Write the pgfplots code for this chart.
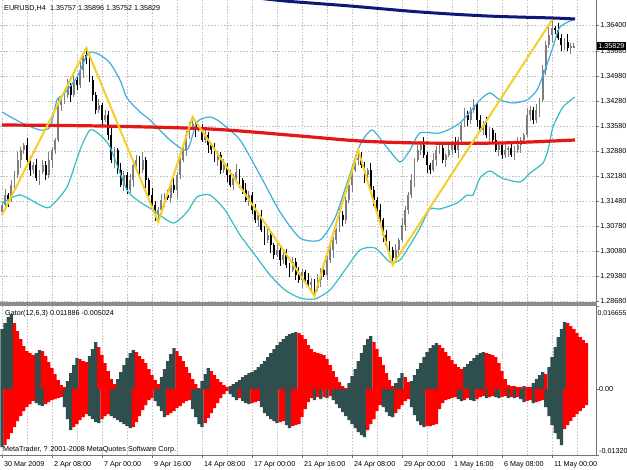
\documentclass[border=0pt]{standalone}
\usepackage{fontspec}
\setmainfont{Liberation Sans}
\usepackage{pgfplots}
\pgfplotsset{compat=1.18}
\usepackage{pgfplotstable}

\definecolor{candgray}{RGB}{125,125,125}
\definecolor{bandup}{RGB}{60,175,222}
\definecolor{banddn}{RGB}{52,190,200}
\definecolor{maRed}{RGB}{228,22,22}
\definecolor{maNavy}{RGB}{14,24,118}
\definecolor{zz}{RGB}{246,206,40}
\definecolor{gslate}{RGB}{47,79,79}
\definecolor{gred}{RGB}{255,0,0}
\definecolor{gridc}{RGB}{196,196,196}

% EURUSD H4 candles: bar index, open, high, low, close
\pgfplotstableread{
i o h l c
0 1.31172 1.31452 1.31088 1.31368
1 1.31368 1.31816 1.31284 1.31648
3 1.31508 1.32068 1.31452 1.31928
4 1.31928 1.32320 1.31788 1.32208
5 1.32208 1.32852 1.32124 1.32628
6 1.32628 1.32992 1.32404 1.32908
7 1.32908 1.33104 1.32796 1.33048
10 1.32348 1.32572 1.32236 1.32488
12 1.32124 1.32348 1.31928 1.32292
13 1.32292 1.32628 1.32236 1.32488
15 1.32208 1.32852 1.32124 1.32628
16 1.32628 1.32992 1.32404 1.32908
17 1.32908 1.33244 1.32796 1.33188
18 1.33188 1.34364 1.33132 1.34168
19 1.34168 1.34420 1.34000 1.34308
20 1.34308 1.34532 1.34196 1.34448
21 1.34448 1.34896 1.34364 1.34728
23 1.34448 1.35008 1.34392 1.34868
25 1.34728 1.35372 1.34644 1.35148
26 1.35148 1.35652 1.34924 1.35568
31 1.34028 1.34336 1.33944 1.34168
33 1.33748 1.34028 1.33692 1.33888
36 1.32628 1.32992 1.32404 1.32908
39 1.31928 1.32320 1.31760 1.32208
41 1.31788 1.32236 1.31704 1.32068
42 1.32068 1.32544 1.31872 1.32488
43 1.32488 1.32768 1.32432 1.32628
45 1.32348 1.32852 1.32264 1.32628
50 1.31088 1.31312 1.30892 1.31228
51 1.31228 1.31676 1.31144 1.31508
52 1.31508 1.31704 1.31312 1.31648
54 1.31564 1.32040 1.31424 1.31928
56 1.31788 1.32292 1.31564 1.32208
57 1.32208 1.32684 1.32096 1.32628
58 1.32628 1.33104 1.32572 1.32908
59 1.32908 1.33440 1.32740 1.33328
60 1.33328 1.33692 1.33216 1.33608
61 1.33608 1.33832 1.33524 1.33636
63 1.33468 1.33608 1.33412 1.33524
65 1.33188 1.33552 1.33104 1.33328
69 1.32628 1.32880 1.32460 1.32768
71 1.32348 1.32656 1.32264 1.32488
74 1.31928 1.32236 1.31788 1.32124
75 1.32124 1.32516 1.32040 1.32292
79 1.31508 1.31760 1.31340 1.31648
82 1.30948 1.31144 1.30752 1.31088
85 1.30388 1.30752 1.30304 1.30528
88 1.29968 1.30304 1.29912 1.30108
90 1.29828 1.30052 1.29716 1.29968
93 1.29548 1.29912 1.29492 1.29772
96 1.29268 1.29576 1.29044 1.29492
99 1.29128 1.29324 1.28960 1.29212
101 1.29044 1.29436 1.28960 1.29268
102 1.29268 1.29604 1.29072 1.29548
104 1.29408 1.29940 1.29268 1.29828
105 1.29828 1.30332 1.29744 1.30108
106 1.30108 1.30472 1.29884 1.30388
107 1.30388 1.30724 1.30276 1.30668
108 1.30668 1.31284 1.30612 1.31088
110 1.30948 1.31592 1.30836 1.31508
111 1.31508 1.32096 1.31424 1.31928
112 1.31928 1.32404 1.31732 1.32348
113 1.32348 1.32768 1.32292 1.32628
114 1.32628 1.32908 1.32488 1.32684
117 1.32208 1.32404 1.32096 1.32348
126 1.29884 1.30276 1.29800 1.30108
127 1.30108 1.30444 1.29912 1.30388
128 1.30388 1.31004 1.30332 1.30808
129 1.30808 1.31340 1.30640 1.31228
130 1.31228 1.31732 1.31116 1.31648
131 1.31648 1.32236 1.31564 1.32068
132 1.32068 1.32684 1.31872 1.32628
133 1.32628 1.33048 1.32572 1.32908
134 1.32908 1.33160 1.32768 1.33048
138 1.32348 1.32824 1.32292 1.32628
139 1.32628 1.33020 1.32460 1.32908
140 1.32908 1.33048 1.32796 1.32964
142 1.32628 1.32824 1.32432 1.32768
143 1.32768 1.33048 1.32712 1.32908
144 1.32908 1.33160 1.32768 1.33048
146 1.32908 1.33272 1.32684 1.33188
147 1.33188 1.33664 1.33076 1.33608
148 1.33608 1.34084 1.33552 1.33888
150 1.33748 1.34112 1.33636 1.34028
151 1.34028 1.34336 1.33944 1.34168
154 1.33468 1.33720 1.33328 1.33608
156 1.33328 1.33552 1.33104 1.33468
159 1.32908 1.33160 1.32740 1.33048
161 1.32768 1.33076 1.32684 1.32908
162 1.32908 1.33020 1.32712 1.32964
164 1.32768 1.33020 1.32628 1.32908
165 1.32908 1.33272 1.32824 1.33048
166 1.33048 1.33272 1.32824 1.33188
167 1.33188 1.33384 1.33076 1.33328
168 1.33328 1.34084 1.33272 1.33888
169 1.33888 1.34140 1.33720 1.34028
171 1.33748 1.34196 1.33664 1.34028
172 1.34028 1.34364 1.33832 1.34308
173 1.34308 1.35288 1.34252 1.35148
174 1.35148 1.35960 1.35008 1.35848
175 1.35848 1.36352 1.35764 1.36128
176 1.36128 1.36548 1.35904 1.36324
180 1.35848 1.36044 1.35708 1.35932
182 1.35764 1.35904 1.35596 1.35820
183 1.35757 1.35896 1.35752 1.35829
}\bull

\pgfplotstableread{
i o h l c
2 1.31648 1.31704 1.31312 1.31508
8 1.33048 1.33244 1.32572 1.32628
9 1.32628 1.32740 1.32180 1.32348
11 1.32488 1.32656 1.32040 1.32124
14 1.32488 1.32600 1.32068 1.32208
22 1.34728 1.34784 1.34252 1.34448
24 1.34868 1.34980 1.34588 1.34728
27 1.35568 1.35764 1.35316 1.35428
28 1.35428 1.35624 1.34812 1.34868
29 1.34868 1.34980 1.34280 1.34448
30 1.34448 1.34532 1.33916 1.34028
32 1.34168 1.34224 1.33552 1.33748
34 1.33888 1.34000 1.33188 1.33328
35 1.33328 1.33552 1.32544 1.32628
37 1.32908 1.32964 1.32236 1.32348
38 1.32348 1.32544 1.31872 1.31928
40 1.32208 1.32292 1.31676 1.31788
44 1.32628 1.32740 1.32208 1.32348
46 1.32628 1.32712 1.31844 1.32068
47 1.32068 1.32124 1.31536 1.31648
48 1.31648 1.31844 1.31312 1.31368
49 1.31368 1.31480 1.30920 1.31088
53 1.31648 1.31788 1.31508 1.31564
55 1.31928 1.32152 1.31704 1.31788
62 1.33636 1.33692 1.33272 1.33468
64 1.33524 1.33636 1.33132 1.33188
66 1.33328 1.33412 1.32824 1.33048
67 1.33048 1.33104 1.32796 1.32908
68 1.32908 1.33104 1.32572 1.32628
70 1.32768 1.32852 1.32236 1.32348
72 1.32488 1.32544 1.32012 1.32208
73 1.32208 1.32348 1.31872 1.31928
76 1.32292 1.32376 1.31844 1.32068
77 1.32068 1.32124 1.31676 1.31788
78 1.31788 1.31984 1.31452 1.31508
80 1.31648 1.31732 1.31116 1.31228
81 1.31228 1.31396 1.30864 1.30948
83 1.31088 1.31228 1.30612 1.30668
84 1.30668 1.30780 1.30248 1.30388
86 1.30528 1.30612 1.30024 1.30248
87 1.30248 1.30304 1.29856 1.29968
89 1.30108 1.30220 1.29660 1.29828
91 1.29968 1.30136 1.29604 1.29688
92 1.29688 1.29744 1.29352 1.29548
94 1.29772 1.29884 1.29268 1.29408
95 1.29408 1.29632 1.29184 1.29268
97 1.29492 1.29548 1.29156 1.29268
98 1.29268 1.29464 1.29072 1.29128
100 1.29212 1.29296 1.28820 1.29044
103 1.29548 1.29688 1.29352 1.29408
109 1.31088 1.31200 1.30780 1.30948
115 1.32684 1.32852 1.32404 1.32488
116 1.32488 1.32572 1.31984 1.32208
118 1.32348 1.32544 1.31732 1.31788
119 1.31788 1.31900 1.31340 1.31508
120 1.31508 1.31592 1.31116 1.31228
121 1.31228 1.31396 1.30864 1.30948
122 1.30948 1.31004 1.30332 1.30528
123 1.30528 1.30668 1.30192 1.30248
124 1.30248 1.30360 1.29968 1.30108
125 1.30108 1.30192 1.29688 1.29884
135 1.33048 1.33272 1.32684 1.32768
136 1.32768 1.32852 1.32264 1.32488
137 1.32488 1.32544 1.32236 1.32348
141 1.32964 1.33132 1.32544 1.32628
145 1.33048 1.33272 1.32824 1.32908
149 1.33888 1.34000 1.33580 1.33748
152 1.34168 1.34224 1.33552 1.33748
153 1.33748 1.33888 1.33412 1.33468
155 1.33608 1.33832 1.33244 1.33328
157 1.33468 1.33524 1.33076 1.33188
158 1.33188 1.33384 1.32852 1.32908
160 1.33048 1.33132 1.32656 1.32768
163 1.32964 1.33104 1.32712 1.32768
170 1.34028 1.34112 1.33636 1.33748
177 1.36324 1.36380 1.36156 1.36268
178 1.36268 1.36464 1.35988 1.36044
179 1.36044 1.36156 1.35680 1.35848
181 1.35932 1.36156 1.35680 1.35764
}\bear

% Gator(12,6,3): upper value, upper rising flag, lower value, lower rising flag
\pgfplotstableread{
i up uc dn dc
0 0.0120 1 -0.0116 1
1 0.0132 1 -0.0112 0
2 0.0144 1 -0.0100 0
3 0.0150 1 -0.0088 0
4 0.0132 0 -0.0076 0
5 0.0116 0 -0.0064 0
6 0.0100 0 -0.0054 0
7 0.0086 0 -0.0044 0
8 0.0076 0 -0.0036 0
9 0.0072 0 -0.0030 0
10 0.0068 0 -0.0024 0
11 0.0072 1 -0.0028 1
12 0.0078 1 -0.0032 1
13 0.0076 0 -0.0034 1
14 0.0066 0 -0.0030 0
15 0.0054 0 -0.0026 0
16 0.0042 0 -0.0022 0
17 0.0030 0 -0.0020 0
18 0.0018 0 -0.0018 0
19 0.0008 0 -0.0016 0
20 0.0004 0 -0.0036 1
21 0.0016 1 -0.0060 1
22 0.0032 1 -0.0082 1
23 0.0048 1 -0.0076 0
24 0.0062 1 -0.0070 0
25 0.0060 0 -0.0062 0
26 0.0056 0 -0.0056 0
27 0.0054 0 -0.0050 0
28 0.0066 1 -0.0054 1
29 0.0080 1 -0.0060 1
30 0.0094 1 -0.0066 1
31 0.0084 0 -0.0068 1
32 0.0068 0 -0.0060 0
33 0.0052 0 -0.0054 0
34 0.0036 0 -0.0050 0
35 0.0020 0 -0.0054 1
36 0.0010 0 -0.0058 1
37 0.0020 1 -0.0062 1
38 0.0034 1 -0.0066 1
39 0.0048 1 -0.0070 1
40 0.0062 1 -0.0074 1
41 0.0072 1 -0.0078 1
42 0.0078 1 -0.0076 0
43 0.0074 0 -0.0066 0
44 0.0066 0 -0.0054 0
45 0.0060 0 -0.0042 0
46 0.0052 0 -0.0032 0
47 0.0040 0 -0.0022 0
48 0.0028 0 -0.0018 0
49 0.0018 0 -0.0024 1
50 0.0010 0 -0.0034 1
51 0.0024 1 -0.0044 1
52 0.0040 1 -0.0056 1
53 0.0056 1 -0.0052 0
54 0.0070 1 -0.0048 0
55 0.0082 1 -0.0044 0
56 0.0076 0 -0.0038 0
57 0.0066 0 -0.0034 0
58 0.0056 0 -0.0028 0
59 0.0044 0 -0.0024 0
60 0.0032 0 -0.0022 0
61 0.0020 0 -0.0040 1
62 0.0010 0 -0.0056 1
63 0.0002 0 -0.0070 1
64 0.0016 1 -0.0076 1
65 0.0030 1 -0.0068 0
66 0.0042 1 -0.0058 0
67 0.0036 0 -0.0048 0
68 0.0028 0 -0.0038 0
69 0.0020 0 -0.0028 0
70 0.0014 0 -0.0018 0
71 0.0008 0 -0.0010 0
72 0.0004 0 -0.0004 0
73 0.0006 1 -0.0010 1
74 0.0010 1 -0.0016 1
75 0.0014 1 -0.0022 1
76 0.0018 1 -0.0018 0
77 0.0024 1 -0.0024 1
78 0.0028 1 -0.0028 1
79 0.0032 1 -0.0030 1
80 0.0034 1 -0.0028 0
81 0.0038 1 -0.0026 0
82 0.0044 1 -0.0024 0
83 0.0050 1 -0.0036 1
84 0.0056 1 -0.0048 1
85 0.0064 1 -0.0054 1
86 0.0072 1 -0.0060 1
87 0.0080 1 -0.0064 1
88 0.0088 1 -0.0068 1
89 0.0094 1 -0.0066 0
90 0.0100 1 -0.0064 0
91 0.0106 1 -0.0072 1
92 0.0110 1 -0.0078 1
93 0.0112 1 -0.0074 0
94 0.0114 1 -0.0072 0
95 0.0112 0 -0.0070 0
96 0.0108 0 -0.0056 0
97 0.0100 0 -0.0040 0
98 0.0088 0 -0.0026 0
99 0.0080 0 -0.0018 0
100 0.0074 0 -0.0022 1
101 0.0072 0 -0.0016 0
102 0.0070 0 -0.0020 1
103 0.0068 0 -0.0016 0
104 0.0060 0 -0.0018 1
105 0.0048 0 -0.0014 0
106 0.0036 0 -0.0022 1
107 0.0024 0 -0.0030 1
108 0.0014 0 -0.0038 1
109 0.0006 0 -0.0046 1
110 0.0002 0 -0.0054 1
111 0.0012 1 -0.0062 1
112 0.0026 1 -0.0070 1
113 0.0040 1 -0.0078 1
114 0.0056 1 -0.0086 1
115 0.0072 1 -0.0092 1
116 0.0088 1 -0.0096 1
117 0.0100 1 -0.0082 0
118 0.0106 1 -0.0070 0
119 0.0094 0 -0.0060 0
120 0.0080 0 -0.0044 0
121 0.0064 0 -0.0032 0
122 0.0048 0 -0.0036 1
123 0.0032 0 -0.0046 1
124 0.0018 0 -0.0054 1
125 0.0006 0 -0.0056 1
126 0.0012 1 -0.0048 0
127 0.0022 1 -0.0040 0
128 0.0032 1 -0.0032 0
129 0.0024 0 -0.0024 0
130 0.0014 0 -0.0020 0
131 0.0016 1 -0.0036 1
132 0.0028 1 -0.0052 1
133 0.0040 1 -0.0064 1
134 0.0052 1 -0.0072 1
135 0.0064 1 -0.0076 1
136 0.0074 1 -0.0074 0
137 0.0082 1 -0.0074 0
138 0.0088 1 -0.0072 0
139 0.0092 1 -0.0070 0
140 0.0088 0 -0.0040 0
141 0.0082 0 -0.0028 0
142 0.0074 0 -0.0022 0
143 0.0066 0 -0.0020 0
144 0.0058 0 -0.0018 0
145 0.0050 0 -0.0016 0
146 0.0044 0 -0.0020 1
147 0.0040 0 -0.0024 1
148 0.0044 1 -0.0022 0
149 0.0050 1 -0.0018 0
150 0.0056 1 -0.0022 1
151 0.0062 1 -0.0024 1
152 0.0068 1 -0.0020 0
153 0.0072 1 -0.0016 0
154 0.0074 1 -0.0014 0
155 0.0072 0 -0.0018 1
156 0.0070 0 -0.0016 0
157 0.0068 0 -0.0014 0
158 0.0064 0 -0.0016 1
159 0.0052 0 -0.0018 1
160 0.0036 0 -0.0016 0
161 0.0020 0 -0.0014 0
162 0.0008 0 -0.0018 1
163 0.0006 0 -0.0016 0
164 0.0006 0 -0.0018 1
165 0.0004 0 -0.0016 0
166 0.0004 0 -0.0020 1
167 0.0006 1 -0.0026 1
168 0.0004 0 -0.0024 0
169 0.0004 0 -0.0022 0
170 0.0012 1 -0.0028 1
171 0.0020 1 -0.0026 0
172 0.0028 1 -0.0024 0
173 0.0034 1 -0.0022 0
174 0.0030 0 -0.0036 1
175 0.0044 1 -0.0054 1
176 0.0064 1 -0.0072 1
177 0.0084 1 -0.0088 1
178 0.0104 1 -0.0100 1
179 0.0120 1 -0.0112 1
180 0.0134 1 -0.0080 0
181 0.0132 0 -0.0072 0
182 0.0126 0 -0.0064 0
183 0.0120 0 -0.0056 0
184 0.0112 0 -0.0050 0
185 0.0104 0 -0.0044 0
186 0.0098 0 -0.0038 0
187 0.0092 0 -0.0032 0
}\gator

\pgfplotsset{
  mt/.style={
    scale only axis, width=596pt, xmin=-0.64, xmax=190.08,
    axis x line*=bottom, axis y line*=right,
    axis line style={-, draw=black!55, line width=0.8pt},
    xtick={0,16,...,176}, minor xtick={8,24,...,184},
    xmajorgrids, xminorgrids,
    major grid style={gridc, dash pattern=on 1.6pt off 1.6pt, line width=0.55pt},
    minor grid style={gridc, dash pattern=on 1.6pt off 1.6pt, line width=0.55pt},
    tick label style={font=\fontsize{7.2}{8}\selectfont},
    yticklabel style={xshift=-2.2pt},
    tick align=outside, major tick length=3pt, minor tick length=0pt,
    tick style={black!55, line width=0.6pt},
    scaled y ticks=false, clip=true,
  },
  wick/.style={draw=none, forget plot, error bars/.cd, y dir=both, y explicit,
    error mark=none, error bar style={draw=#1, line width=0.8pt}},
  body/.style={draw=none, forget plot, error bars/.cd, y dir=both, y explicit,
    error mark=none, error bar style={draw=#1, line width=1.9pt}},
}

\begin{document}
\begin{tikzpicture}
\fill[white] (0pt,0pt) rectangle (627pt,470pt);
\path[use as bounding box] (0pt,0pt) rectangle (627pt,470pt);

% price window
\begin{axis}[mt, at={(0pt,470pt)}, anchor=north west, height=302pt,
  ymin=1.28652, ymax=1.37108,
  ytick={1.2868,1.2938,1.3008,1.3078,1.3148,1.3218,1.3288,1.3358,1.3428,1.3498,1.3568,1.3640},
  yticklabels={1.28680,1.29380,1.30080,1.30780,1.31480,1.32180,1.32880,1.33580,1.34280,1.34980,1.35680,1.36400},
  ymajorgrids, xticklabels={}, xtick style={draw=none}]
  \addplot[wick=candgray] table[x=i, y expr=(\thisrow{h}+\thisrow{l})/2, y error expr=(\thisrow{h}-\thisrow{l})/2] {\bull};
  \addplot[body=candgray] table[x=i, y expr=(\thisrow{o}+\thisrow{c})/2, y error expr=(\thisrow{c}-\thisrow{o})/2] {\bull};
  \addplot[wick=black] table[x=i, y expr=(\thisrow{h}+\thisrow{l})/2, y error expr=(\thisrow{h}-\thisrow{l})/2] {\bear};
  \addplot[body=black] table[x=i, y expr=(\thisrow{o}+\thisrow{c})/2, y error expr=(\thisrow{o}-\thisrow{c})/2] {\bear};
  % upper band
  \addplot[bandup, line width=1.2pt, smooth, tension=0.4] coordinates {
    (0,1.33972) (5.76,1.33692) (12.16,1.33468) (15.36,1.33552) (17.6,1.34308) (19.52,1.34448)
    (24,1.34952) (27.2,1.35568) (28.8,1.35652) (31.36,1.35568) (34.56,1.35344) (37.76,1.34868)
    (40,1.34364) (44.16,1.33972) (47.36,1.33748) (53.76,1.33188) (59.2,1.32908) (62.4,1.33692)
    (66.56,1.33832) (69.76,1.33692) (76.16,1.33188) (82.56,1.32208) (88.96,1.31172) (95.36,1.30444)
    (101.76,1.30388) (106.56,1.31004) (110.72,1.32068) (114.56,1.33048) (118.4,1.33468) (122.56,1.33048)
    (127.36,1.32572) (130.56,1.32908) (133.76,1.33384) (140.16,1.33384) (146.56,1.33664) (152.96,1.34308)
    (156.16,1.34504) (159.36,1.34308) (163.52,1.34224) (168,1.34308) (171.2,1.34588) (173.76,1.35148)
    (176.32,1.35792) (178.56,1.36352) (183.36,1.36576)};
  % lower band
  \addplot[banddn, line width=1.2pt, smooth, tension=0.4] coordinates {
    (0,1.31424) (5.76,1.31648) (12.16,1.31368) (15.36,1.31312) (20.8,1.31872) (24.96,1.32908)
    (28.16,1.33468) (31.36,1.33328) (34.56,1.32992) (40,1.31788) (44.16,1.31452) (48.32,1.31228)
    (54.72,1.30864) (59.2,1.31172) (62.4,1.31592) (66.56,1.31648) (71.36,1.31228) (76.16,1.30528)
    (80.96,1.29968) (85.76,1.29408) (90.56,1.28988) (95.36,1.28764) (100.16,1.28736) (104.96,1.28988)
    (109.76,1.29548) (114.56,1.30108) (119.36,1.30164) (124.16,1.29772) (127.36,1.29828) (130.56,1.30248)
    (133.76,1.30724) (136.96,1.31256) (140.16,1.31256) (145.6,1.31424) (148.8,1.31648) (150.72,1.31648)
    (152.96,1.32124) (156.16,1.32320) (160,1.32124) (165.76,1.32012) (168.96,1.32264) (173.12,1.32544)
    (174.72,1.32908) (176.32,1.33552) (179.52,1.34112) (183.36,1.34392)};
  % long moving averages
  \addplot[maRed, line width=3.2pt, smooth] coordinates {
    (0,1.33608) (31.36,1.33580) (66.56,1.33496) (95.36,1.33300) (114.56,1.33160)
    (133.76,1.33104) (159.36,1.33104) (183.36,1.33188)};
  \addplot[maNavy, line width=3pt, smooth] coordinates {
    (79.36,1.37192) (90.56,1.37080) (111.36,1.36940) (133.76,1.36772)
    (155.2,1.36660) (176.32,1.36604) (183.36,1.36576)};
  % zigzag
  \addplot[zz, line width=2pt] coordinates {
    (0,1.31088) (27,1.35764) (50,1.30892) (61,1.33832) (100,1.28820)
    (114,1.32908) (125,1.29688) (176,1.36548)};
\end{axis}

% Gator window
\begin{axis}[mt, at={(0pt,15pt)}, anchor=south west, height=149pt,
  ymin=-0.0132, ymax=0.016655,
  ytick={-0.0132,0,0.016655}, yticklabels={},
  xticklabels={30 Mar 2009,2 Apr 08:00,7 Apr 00:00,9 Apr 16:00,14 Apr 08:00,17 Apr 00:00,
    21 Apr 16:00,24 Apr 08:00,29 Apr 00:00,1 May 16:00,6 May 08:00,11 May 00:00},
  xticklabel style={anchor=north west, xshift=-1.5pt}]
  \addplot[ybar, bar shift=0pt, bar width=1.04, fill=gslate, draw=none]
    table[x=i, y expr=\thisrow{up}*\thisrow{uc}] {\gator};
  \addplot[ybar, bar shift=0pt, bar width=1.04, fill=gred, draw=none]
    table[x=i, y expr=\thisrow{up}*(1-\thisrow{uc})] {\gator};
  \addplot[ybar, bar shift=0pt, bar width=1.04, fill=gslate, draw=none]
    table[x=i, y expr=\thisrow{dn}*\thisrow{dc}] {\gator};
  \addplot[ybar, bar shift=0pt, bar width=1.04, fill=gred, draw=none]
    table[x=i, y expr=\thisrow{dn}*(1-\thisrow{dc})] {\gator};
\end{axis}

\fill[black!45] (0pt,164.4pt) rectangle (597pt,168pt);
\begin{scope}[font=\fontsize{7.2}{8}\selectfont]
  \node[anchor=west, inner sep=0] at (4pt,462pt) {EURUSD,H4\hspace{0.6em}1.35757 1.35896 1.35752 1.35829};
  \node[anchor=west, inner sep=0] at (5pt,156pt) {Gator(12,6,3) 0.011886 -0.005024};
  \node[anchor=west, inner sep=0] at (3pt,20pt) {MetaTrader, ? 2001-2008 MetaQuotes Software Corp.};
  \node[anchor=west, inner sep=0, font=\fontsize{6.9}{8}\selectfont] at (597.5pt,157pt) {0.016655};
  \node[anchor=west, inner sep=0] at (599pt,81pt) {0.00};
  \node[anchor=west, inner sep=0] at (599pt,19pt) {-0.01320};
  \node[anchor=west, fill=black, text=white, inner xsep=1.2pt, inner ysep=1.5pt] at (597pt,424pt) {1.35829};
\end{scope}
\end{tikzpicture}
\end{document}
